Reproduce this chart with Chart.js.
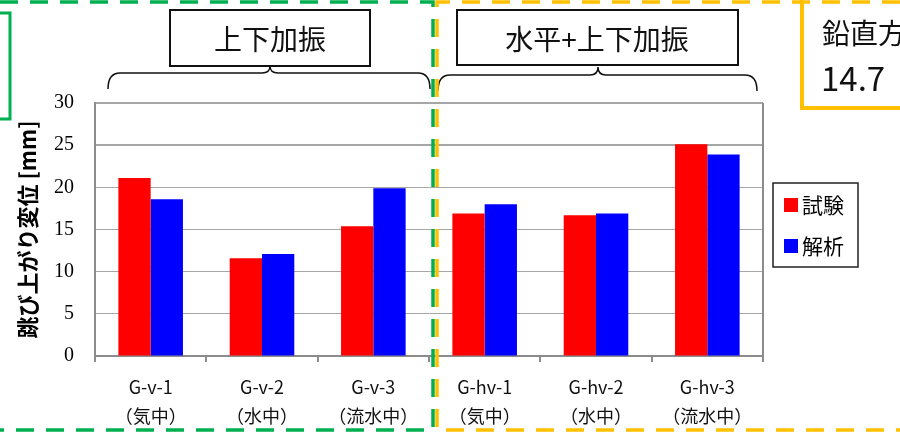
<!DOCTYPE html>
<html lang="ja">
<head>
<meta charset="utf-8">
<title>跳び上がり変位</title>
<script src="https://cdn.jsdelivr.net/npm/chart.js@4/dist/chart.umd.min.js"></script>
<style>
    html, body { margin: 0; padding: 0; background: #fff; }
    #wrap { width: 900px; height: 437px; }
</style>
</head>
<body>
<div id="wrap"><canvas id="jumpChart" width="900" height="437"></canvas></div>
<script>
// ケース名（2行で表示）
const categories = [
    ['G-v-1', '（気中）'],
    ['G-v-2', '（水中）'],
    ['G-v-3', '（流水中）'],
    ['G-hv-1', '（気中）'],
    ['G-hv-2', '（水中）'],
    ['G-hv-3', '（流水中）']
];
const seriesNames = ['試験', '解析'];
const testValues = [21.1, 11.6, 15.4, 16.9, 16.7, 25.1];
const analysisValues = [18.6, 12.1, 19.9, 18.0, 16.9, 23.9];
const yTicks = [0, 5, 10, 15, 20, 25, 30];
const groupLabels = ['上下加振', '水平+上下加振'];
const noteLines = ['鉛直方向', '14.7'];

const JP = '"Noto Sans CJK JP", "Noto Sans", sans-serif';

// 枠・括弧・凡例などの飾り
const decorPlugin = {
    id: 'decor',
    afterDraw(chart) {
        const ctx = chart.ctx;
        const area = chart.chartArea;
        ctx.save();

        // プロット右端の枠線
        ctx.strokeStyle = '#8c8c8c';
        ctx.lineWidth = 2;
        ctx.beginPath();
        ctx.moveTo(area.right, area.top);
        ctx.lineTo(area.right, area.bottom);
        ctx.stroke();

        // グループ名の箱
        ctx.strokeStyle = '#111';
        ctx.lineWidth = 2;
        ctx.strokeRect(170, 10, 200, 56);
        ctx.strokeRect(457, 10, 281, 55);
        ctx.fillStyle = '#111';
        ctx.font = '28px ' + JP;
        ctx.textAlign = 'center';
        ctx.textBaseline = 'middle';
        ctx.fillText(groupLabels[0], 270, 39);
        ctx.fillText(groupLabels[1], 597, 39);

        // 波括弧
        function brace(x0, x1, xm, yLine, yEnd, yPeak) {
            ctx.beginPath();
            ctx.moveTo(x0, yEnd);
            ctx.quadraticCurveTo(x0, yLine, x0 + 12, yLine);
            ctx.lineTo(xm - 8, yLine);
            ctx.quadraticCurveTo(xm, yLine, xm, yPeak);
            ctx.quadraticCurveTo(xm, yLine, xm + 8, yLine);
            ctx.lineTo(x1 - 12, yLine);
            ctx.quadraticCurveTo(x1, yLine, x1, yEnd);
            ctx.stroke();
        }
        ctx.lineWidth = 1.5;
        brace(108, 430, 270, 73, 89, 66);
        brace(438, 757, 598, 75, 91, 67);

        // 凡例
        ctx.strokeStyle = '#222';
        ctx.lineWidth = 1.5;
        ctx.strokeRect(773, 183, 85, 84);
        ctx.textAlign = 'left';
        ctx.font = '21px ' + JP;
        chart.data.datasets.forEach((ds, i) => {
            const y = 198 + i * 41;
            ctx.fillStyle = ds.backgroundColor;
            ctx.fillRect(784, y, 14, 14);
            ctx.fillStyle = '#000';
            ctx.fillText(ds.label, 802, y + 7);
        });

        // 右上の注記
        ctx.strokeStyle = '#ffc000';
        ctx.lineWidth = 4;
        ctx.strokeRect(802, -4, 110, 112);
        ctx.fillStyle = '#111';
        ctx.font = '28px ' + JP;
        ctx.fillText(noteLines[0], 822, 33);
        ctx.font = '33px ' + JP;
        ctx.fillText(noteLines[1], 821, 78);

        // 左上の緑枠（一部）
        ctx.strokeStyle = '#00b050';
        ctx.lineWidth = 3;
        ctx.beginPath();
        ctx.moveTo(-5, 13);
        ctx.lineTo(10, 13);
        ctx.lineTo(10, 119);
        ctx.lineTo(-5, 119);
        ctx.stroke();

        // 破線の囲み
        ctx.setLineDash([18, 12]);
        ctx.lineWidth = 3.5;
        ctx.strokeStyle = '#00b050';
        ctx.beginPath();
        ctx.moveTo(0, 2);
        ctx.lineTo(433, 2);
        ctx.lineTo(433, 430);
        ctx.lineTo(0, 430);
        ctx.stroke();
        ctx.strokeStyle = '#ffc000';
        ctx.beginPath();
        ctx.moveTo(900, 2);
        ctx.lineTo(437, 2);
        ctx.lineTo(437, 430);
        ctx.lineTo(900, 430);
        ctx.stroke();

        ctx.restore();
    }
};

const ctxEl = document.getElementById('jumpChart');
new Chart(ctxEl, {
    type: 'bar',
    data: {
        labels: categories,
        datasets: [{
            label: seriesNames[0],
            data: testValues,
            backgroundColor: '#ff0000',
            borderWidth: 0
        }, {
            label: seriesNames[1],
            data: analysisValues,
            backgroundColor: '#0000ff',
            borderWidth: 0
        }]
    },
    options: {
        responsive: false,
        animation: false,
        layout: {
            padding: { top: 103, right: 137, left: 0, bottom: 0 }
        },
        datasets: {
            bar: { categoryPercentage: 0.58, barPercentage: 1.0 }
        },
        scales: {
            x: {
                offset: true,
                grid: {
                    offset: true,
                    drawOnChartArea: false,
                    drawTicks: true,
                    tickLength: 6,
                    color: '#8c8c8c',
                    lineWidth: 2
                },
                border: { color: '#8c8c8c', width: 2 },
                ticks: {
                    color: '#111',
                    padding: 11,
                    maxRotation: 0,
                    autoSkip: false,
                    font: { family: JP, size: 18, lineHeight: 1.6 }
                },
                afterFit(scale) { scale.height = 81; }
            },
            y: {
                min: 0,
                max: 30,
                afterBuildTicks(scale) {
                    scale.ticks = yTicks.map(v => ({ value: v }));
                },
                grid: {
                    drawTicks: false,
                    color: '#a6a6a6',
                    lineWidth: ctx => (ctx.tick && (ctx.tick.value === 25 || ctx.tick.value === 30) ? 2 : 1)
                },
                border: { color: '#8c8c8c', width: 2 },
                ticks: {
                    color: '#000',
                    padding: 21,
                    font: { family: '"Liberation Serif", serif', size: 20 }
                },
                title: {
                    display: true,
                    text: '跳び上がり変位 [mm]',
                    color: '#000',
                    padding: { top: 14, bottom: 0 },
                    font: { family: JP, size: 22, weight: 'bold' }
                },
                afterFit(scale) { scale.width = 95; }
            }
        },
        plugins: {
            legend: { display: false },
            tooltip: { enabled: false }
        }
    },
    plugins: [decorPlugin]
});
</script>
</body>
</html>
